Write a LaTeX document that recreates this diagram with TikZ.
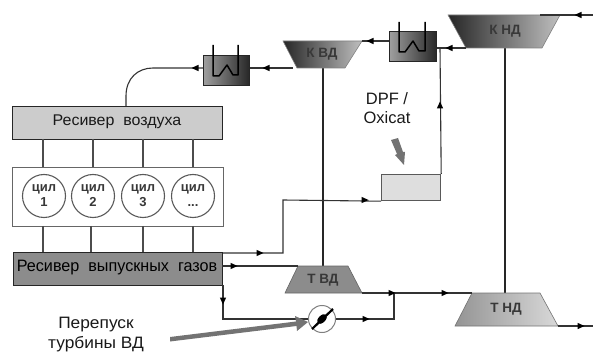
\documentclass[tikz,border=0pt]{standalone}
\usepackage{fontspec}
\setmainfont{Liberation Sans}
\usetikzlibrary{arrows.meta,calc}
\definecolor{lineg}{gray}{0.2}
\definecolor{labg}{gray}{0.22}
\tikzset{
  x=1pt,y=-1pt,
  pipe/.style={draw=lineg,line width=1.1pt},
  shaft/.style={draw=black!85,line width=1.9pt},
  rec/.style={draw=black!85,line width=1.2pt,anchor=north west,inner sep=0pt,align=center},
  link/.style={draw=black!70,line width=1.5pt},
  cyl/.style={circle,draw=black!65,line width=1.1pt,fill=white,minimum size=43pt,inner sep=0pt,align=center,font=\bfseries\fontsize{13}{15}\selectfont,text=labg},
  mach/.style={font=\bfseries\fontsize{13.5}{15}\selectfont,text=labg},
  cooler/.style={draw=black!85,line width=1.4pt,left color=black!38,middle color=black!18,right color=black!85,anchor=north west,inner sep=0pt},
  coil/.style={draw=black,line width=1.5pt,line join=round},
}
\newcommand{\tipR}[2]{\fill[black] (#1-3.5,#2-3.2) -- (#1+3.5,#2) -- (#1-3.5,#2+3.2) -- cycle;}
\newcommand{\tipL}[2]{\fill[black] (#1+3.5,#2-3.2) -- (#1-3.5,#2) -- (#1+3.5,#2+3.2) -- cycle;}
\newcommand{\tipU}[2]{\fill[black] (#1-3.2,#2+3.5) -- (#1,#2-3.5) -- (#1+3.2,#2+3.5) -- cycle;}
\newcommand{\tipD}[2]{\fill[black] (#1-3.2,#2-3.5) -- (#1,#2+3.5) -- (#1+3.2,#2-3.5) -- cycle;}
\begin{document}
\begin{tikzpicture}
\useasboundingbox (0,0) rectangle (593,352);
% named coordinates
\coordinate (kvdL) at (297,68); \coordinate (kvdTL) at (283,41); \coordinate (kvdTR) at (362,41); \coordinate (kvdR) at (345,68);
\coordinate (kndTL) at (448,15); \coordinate (kndTR) at (560,15); \coordinate (kndR) at (542,48); \coordinate (kndL) at (466,48);
\coordinate (tvdTL) at (298,266); \coordinate (tvdTR) at (348,266); \coordinate (tvdBR) at (362,293); \coordinate (tvdBL) at (285,293);
\coordinate (tndTL) at (472,293); \coordinate (tndTR) at (540,293); \coordinate (tndBR) at (558,326); \coordinate (tndBL) at (455,326);
\coordinate (inK) at (593,15); \coordinate (outT) at (593,326);
\coordinate (airIn) at (126,106); \coordinate (bend) at (153,68);
% boxes
\node[rec,fill=black!20,minimum width=210pt,minimum height=33pt] (air) at (12,106) {};
\node[rec,draw=black!60,fill=white,minimum width=211pt,minimum height=59pt] (block) at (12,167) {};
\node[rec,fill=black!45,minimum width=209pt,minimum height=33pt] (exh) at (13,252) {};
\node[xscale=1.03,font=\fontsize{15.5}{18}\selectfont,text=black!90] (airt) at (117,122) {Ресивер\ \ воздуха};
\node[xscale=.98,font=\fontsize{16.5}{18}\selectfont,text=black] (exht) at (117,268) {Ресивер\ \ выпускных\ \ газов};
% links air - block - exhaust
\foreach \i/\x/\xx in {1/43/43,2/93/91,3/143/143,4/193/193}{
  \coordinate (a\i) at (\x,139); \coordinate (b\i) at (\x,167);
  \coordinate (c\i) at (\xx,226); \coordinate (d\i) at (\xx,252);
  \draw[link] (a\i)--(b\i);
  \draw[link] (c\i)--(d\i);
}
% cylinders
\node[cyl] (c1) at (44,196) {цил\\1};
\node[cyl] (c2) at (93,196) {цил\\2};
\node[cyl] (c3) at (143,196) {цил\\3};
\node[cyl] (c4) at (193,196) {цил\\...};
% coolers
\node[cooler,minimum width=46pt,minimum height=30pt] (ic1) at (203,55) {};
\node[cooler,minimum width=47pt,minimum height=30pt] (ic2) at (389,31) {};
\draw[coil] (213,45) -- (213,76) -- (219,76) -- (227,65) -- (233,75) -- (238,75) -- (238,45);
\draw[coil] (399,22) -- (399,52) -- (405,52) -- (413,41) -- (419,51) -- (425,51) -- (425,22);
% shafts
\draw[shaft] (323,68) -- (323,266);
\draw[shaft] (505,48) -- (505,293);
% machines
\shade[left color=black!85,right color=black!25,draw=black!50,line width=.6pt] (kvdTL)--(kvdTR)--(kvdR)--(kvdL)--cycle;
\node[mach] (kvd) at (322,54) {К ВД};
\shade[left color=black!85,right color=black!25,draw=black!50,line width=.6pt] (kndTL)--(kndTR)--(kndR)--(kndL)--cycle;
\node[mach] (knd) at (505,31) {К НД};
\filldraw[fill=black!45,draw=black!60,line width=.6pt] (tvdTL)--(tvdTR)--(tvdBR)--(tvdBL)--cycle;
\node[mach] (tvd) at (323,280) {Т ВД};
\shade[left color=black!42,right color=black!15,draw=black!55,line width=.6pt] (tndTL)--(tndTR)--(tndBR)--(tndBL)--cycle;
\node[mach] (tnd) at (506,309) {Т НД};
% DPF
\node[rec,draw=black!65,fill=black!13,minimum width=59pt,minimum height=26pt] (dpf) at (381,174) {};
\node[font=\fontsize{16.5}{19}\selectfont,align=center,text=black!90] (dpft) at (387,108) {DPF /\\Oxicat};
% pipes
\draw[pipe] (airIn) -- (126,96) .. controls (126,78) and (138,68) .. (bend) -- (ic1.west |- 0,68);
\draw[pipe] (kvdL |- 0,68) ++(-4,0) -- (ic1.east |- 0,68);
\draw[pipe] (ic2.west |- 0,41) -- (kvdTR);
\draw[pipe] (kndL) -- (ic2.east |- 0,48);
\draw[pipe] (kndTR) ++(-20,0) -- (inK);
\draw[pipe] (440,48) -- (dpf.north east);
\draw[pipe] (exh.north east) ++(0,1) -- (283,253) -- (283,200) -- (dpf.south west);
\draw[pipe] (222,266) -- (tvdTL);
\draw[pipe] (223,285) -- (223,319) -- (308,319);
\draw[pipe] (336,319) -- (394,319) -- (394,293);
\draw[pipe] (tvdBR) -- (tndTL);
\draw[pipe] (tndBR) -- (outT);
% valve
\node[circle,draw=black!50,line width=1pt,fill=white,minimum size=27pt,inner sep=0pt] (valve) at (322,319) {};
\draw[line width=2.2pt,black] (312,329) -- (333,309);
\fill[black,rotate around={45:(322,319)}] (322,319) ellipse (6pt and 3.5pt);
% big gray arrows
\fill[black!55] (170,337) -- (296,321.5) -- (295,316) -- (308,322) -- (297,331) -- (296.5,326) -- (170,341.5) -- cycle;
\fill[black!55] (391,140) -- (398,138) -- (403,152) -- (405,152) -- (404,165) -- (395,155) -- (397,154) -- cycle;
% tips
\tipL{195}{68} \tipL{266}{68} \tipL{370}{41} \tipL{449}{48} \tipL{578}{15}
\tipU{440}{105}
\tipR{260}{253} \tipR{234}{266} \tipD{223}{301} \tipR{365}{200}
\tipR{366}{319} \tipR{392}{293} \tipR{445}{293} \tipR{581}{326}
% label
\node[xscale=1.05,font=\fontsize{16.5}{20}\selectfont,align=center,text=black!90] (bypass) at (96,335) {Перепуск\\турбины ВД};
\end{tikzpicture}
\end{document}
